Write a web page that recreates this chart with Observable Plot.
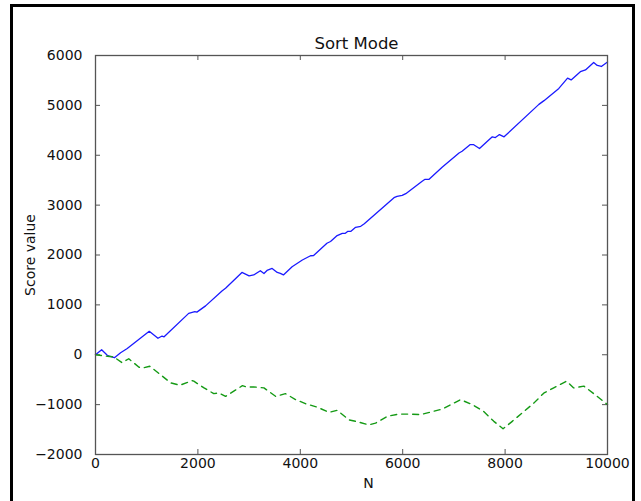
<!DOCTYPE html>
<html>
<head>
<meta charset="utf-8">
<script src="https://cdn.jsdelivr.net/npm/d3@7"></script>
<script src="https://cdn.jsdelivr.net/npm/@observablehq/plot@0.6"></script>
<style>
  html, body { margin: 0; padding: 0; background: #fff; overflow: hidden; }
  #wrap { position: relative; width: 641px; height: 501px; }
  #wrap svg { position: absolute; left: 0; top: 0; }
  #border { position: absolute; left: 10px; top: 4px; width: 625px; height: 560px;
            border: 3px solid #000; box-sizing: border-box; pointer-events: none; }
</style>
</head>
<body>
<div id="wrap"><div id="border"></div></div>
<script>
const title = "Sort Mode";
const xLabel = "N";
const yLabel = "Score value";
const xTicks = [0, 2000, 4000, 6000, 8000, 10000];
const yTicks = [-2000, -1000, 0, 1000, 2000, 3000, 4000, 5000, 6000];

const blueN = [0, 120, 230, 290, 370, 490, 620, 1050, 1220, 1300, 1340, 1820, 1940, 1980, 2150, 2470, 2540, 2860, 3000, 3090, 3220, 3290, 3350, 3450, 3550, 3610, 3670, 3840, 4040, 4200, 4260, 4520, 4590, 4720, 4820, 4880, 4930, 4990, 5080, 5180, 5250, 5830, 5890, 5990, 6060, 6380, 6430, 6510, 6770, 7100, 7160, 7320, 7380, 7500, 7750, 7810, 7890, 7980, 8660, 8760, 9050, 9220, 9290, 9470, 9570, 9730, 9800, 9880, 10000];
const blueV = [0, 100, -10, -35, -60, 40, 125, 470, 330, 375, 360, 830, 865, 855, 980, 1280, 1335, 1650, 1580, 1600, 1685, 1630, 1690, 1730, 1650, 1630, 1600, 1765, 1900, 1985, 1990, 2235, 2270, 2390, 2435, 2435, 2475, 2475, 2555, 2575, 2625, 3150, 3175, 3195, 3230, 3480, 3515, 3515, 3760, 4045, 4080, 4215, 4215, 4135, 4370, 4355, 4415, 4370, 5020, 5095, 5340, 5545, 5510, 5675, 5710, 5860, 5800, 5780, 5870];

const greenN = [0, 230, 360, 520, 650, 850, 930, 1060, 1270, 1470, 1650, 1890, 1920, 2120, 2310, 2410, 2540, 2870, 2960, 3090, 3290, 3520, 3710, 3910, 4100, 4330, 4560, 4720, 4950, 5080, 5340, 5470, 5700, 5920, 6120, 6350, 6540, 6770, 7130, 7360, 7580, 7780, 7960, 8140, 8370, 8560, 8760, 8950, 9200, 9340, 9540, 9800, 10000];
const greenV = [0, -30, -45, -160, -80, -250, -265, -230, -400, -565, -610, -520, -530, -665, -780, -765, -835, -620, -650, -645, -665, -835, -780, -900, -980, -1050, -1155, -1115, -1305, -1335, -1405, -1370, -1235, -1190, -1190, -1200, -1150, -1090, -900, -1000, -1135, -1335, -1485, -1335, -1135, -970, -765, -665, -530, -665, -630, -835, -1000];

const blue = blueN.map((n, i) => ({n, v: blueV[i]}));
const green = greenN.map((n, i) => ({n, v: greenV[i]}));

const W = 641, H = 501, mL = 95, mR = 34, mT = 55, mB = 47;
const innerW = W - mL - mR, innerH = H - mT - mB;
const tl = 5;
const fmt = d => d < 0 ? "\u2212" + Math.abs(d) : String(d);
const axisColor = "#555";
const font = "DejaVu Sans, sans-serif";

const chart = Plot.plot({
  width: W, height: H,
  marginLeft: mL, marginRight: mR, marginTop: mT, marginBottom: mB,
  style: {fontFamily: font, fontSize: "14px", color: "#111", background: "transparent"},
  x: {domain: [0, 10000]},
  y: {domain: [-2000, 6000]},
  marks: [
    Plot.axisX(xTicks, {tickSize: 0, tickPadding: 4, tickFormat: fmt, label: null, fontSize: 14}),
    Plot.axisY(yTicks, {tickSize: 0, tickPadding: 13, tickFormat: fmt, label: null, fontSize: 14}),
    Plot.tickX(xTicks, {x: d => d, insetTop: innerH - tl, stroke: axisColor}),
    Plot.tickX(xTicks, {x: d => d, insetBottom: innerH - tl, stroke: axisColor}),
    Plot.tickY(yTicks, {y: d => d, insetRight: innerW - tl, stroke: axisColor}),
    Plot.tickY(yTicks, {y: d => d, insetLeft: innerW - tl, stroke: axisColor}),
    Plot.line(blue, {x: "n", y: "v", stroke: "#1a1aff", strokeWidth: 1.3}),
    Plot.line(green, {x: "n", y: "v", stroke: "#159a15", strokeWidth: 1.4, strokeDasharray: "6,5"}),
    Plot.frame({stroke: axisColor, strokeWidth: 1.3}),
    Plot.text([title], {frameAnchor: "top", lineAnchor: "middle", dy: -11.5, dx: 5, fontSize: 16.5, fill: "#111"}),
    Plot.text([xLabel], {frameAnchor: "bottom", lineAnchor: "middle", dy: 29.5, dx: 17, fontSize: 14, fill: "#111"}),
    Plot.text([yLabel], {frameAnchor: "left", textAnchor: "middle", lineAnchor: "middle", dx: -65, rotate: -90, fontSize: 14, fill: "#111"})
  ]
});
document.getElementById("wrap").insertBefore(chart, document.getElementById("border"));
</script>
</body>
</html>
